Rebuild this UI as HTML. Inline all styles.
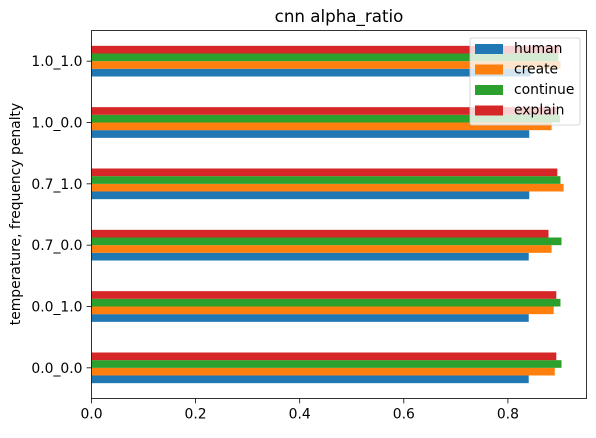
<!DOCTYPE html>
<html><head><meta charset="utf-8"><style>
body{margin:0;background:#fff;font-family:"Liberation Sans","DejaVu Sans",sans-serif;}
svg text{font-family:"DejaVu Sans","Liberation Sans",sans-serif;}
</style></head><body>
<svg id="chart" width="596" height="433" viewBox="0 0 596 433">
<text x="339" y="22" font-size="16.7" text-anchor="middle">cnn alpha_ratio</text>
<g id="bars"></g>
<g id="axes"></g>
<text transform="translate(20,214) rotate(-90)" font-size="13.9" text-anchor="middle">temperature, frequency penalty</text>
<g id="legend"></g>
</svg>
<script>
const categories=["0.0_0.0","0.0_1.0","0.7_0.0","0.7_1.0","1.0_0.0","1.0_1.0"];
const seriesNames=["human","create","continue","explain"];
const human=[0.840,0.840,0.840,0.841,0.841,0.843];
const create=[0.890,0.888,0.884,0.907,0.884,0.901];
const cont=[0.903,0.901,0.903,0.901,0.900,0.897];
const explain=[0.893,0.893,0.878,0.895,0.893,0.899];
const xTicks=[0,0.2,0.4,0.6,0.8];
const colors=["#1f77b4","#ff7f0e","#2ca02c","#d62728"];
const series=[human,create,cont,explain];
const NS="http://www.w3.org/2000/svg";
const L=91.5,R=586.5,T=30.5,B=398.5;
const xs=v=>L+v*520.5;
const step=(B-T)/categories.length;
const yc=i=>B-step*(i+0.5);
const bh=step*0.5/4;
function mk(t,a,p){const e=document.createElementNS(NS,t);for(const k in a)e.setAttribute(k,a[k]);p.appendChild(e);return e;}
const bars=document.getElementById('bars');
categories.forEach((c,i)=>{series.forEach((s,j)=>{
 const y=yc(i)+step*0.25-(j+1)*bh;
 const r=mk('rect',{x:L,y:y,width:xs(s[i])-L,height:bh,fill:colors[j]},bars);
 
 
});});
const ax=document.getElementById('axes');
mk('rect',{x:L,y:T,width:R-L,height:B-T,fill:'none',stroke:'#000','stroke-width':0.8},ax);
xTicks.forEach(v=>{
 mk('line',{x1:xs(v),x2:xs(v),y1:B,y2:B+4.9,stroke:'#000','stroke-width':0.8},ax);
 const t=mk('text',{x:xs(v),y:B+20,'font-size':13.9,'text-anchor':'middle'},ax);t.textContent=v.toFixed(1);
 
 
});
categories.forEach((c,i)=>{
 mk('line',{x1:L-4.9,x2:L,y1:yc(i),y2:yc(i),stroke:'#000','stroke-width':0.8},ax);
 const t=mk('text',{x:L-9,y:yc(i)+5,'font-size':13.9,'text-anchor':'end'},ax);t.textContent=c;
 
 
});
const lg=document.getElementById('legend');
mk('rect',{x:470,y:38,width:110,height:87,rx:2,fill:'#fff','fill-opacity':0.8,stroke:'#ccc','stroke-width':0.8},lg);
seriesNames.forEach((n,j)=>{
 const y=48+j*20.5;
 mk('rect',{x:475,y:y-4,width:28,height:10,fill:colors[j]},lg);
 const t=mk('text',{x:514,y:y+5,'font-size':13.9},lg);t.textContent=n;
 
 
});
</script>
</body></html>
